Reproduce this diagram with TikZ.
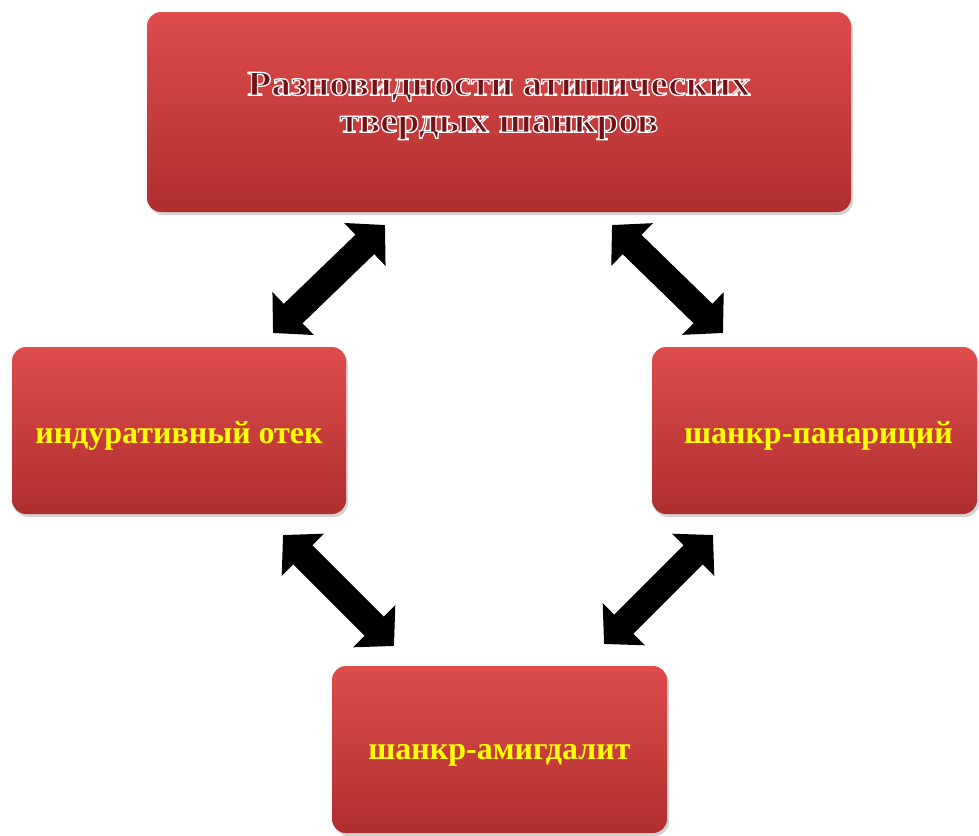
\documentclass[tikz,border=0pt]{standalone}
\usepackage{fontspec}
\setmainfont{Liberation Serif}
\newfontfamily\titlefont[FakeStretch=1.12]{Liberation Serif}
\usetikzlibrary{shadows,arrows.meta}
\definecolor{boxtop}{RGB}{222,76,76}
\definecolor{boxbot}{RGB}{176,46,46}
\definecolor{titlefill}{RGB}{112,18,24}
\definecolor{txtyellow}{RGB}{255,255,0}
\newcommand\outlinetext[1]{\special{pdf:literal direct 2 Tr 1.3 w 1 1 1 RG}#1\special{pdf:literal direct 0 Tr}}
\newcommand\lowerby[2]{\raisebox{-#1}[\height][\depth]{#2}}
\begin{document}
\begin{tikzpicture}[x=1pt,y=-1pt,
  box/.style={rounded corners=14pt, top color=boxtop, bottom color=boxbot, draw=none,
    inner sep=0pt, drop shadow={opacity=0.35,shadow xshift=2pt,shadow yshift=-3pt},
    font=\bfseries\fontsize{32}{36}\selectfont, text=txtyellow},
  dbl/.style={line width=27pt, {Triangle[length=28pt,width=58pt]}-{Triangle[length=28pt,width=58pt]}}]
\useasboundingbox (0,0) rectangle (979,835);
\node[box, minimum width=704pt, minimum height=200pt] (top) at (499,112) {};
\node[text=titlefill, align=center, inner sep=0pt,
  font=\titlefont\bfseries\fontsize{35}{37}\selectfont] (title) at (499,106)
  {\outlinetext{Разновидности атипических\\твердых шанкров}};
\node[box, minimum width=334pt, minimum height=167pt] (left) at (179,430.5) {\lowerby{5pt}{индуративный отек}};
\node[box, minimum width=325pt, minimum height=167pt] (right) at (814.5,430.5) {\hspace*{8pt}\lowerby{5pt}{шанкр-панариций}};
\node[box, minimum width=335pt, minimum height=167pt] (bottom) at (499.5,749.5) {\lowerby{6pt}{шанкр-амигдалит}};
\coordinate (a1s) at (385,225); \coordinate (a1e) at (273,333);
\coordinate (a2s) at (612,225); \coordinate (a2e) at (723,333);
\coordinate (a3s) at (283,535); \coordinate (a3e) at (394,646);
\coordinate (a4s) at (713,535); \coordinate (a4e) at (604,644);
\draw[dbl] (a1s) -- (a1e);
\draw[dbl] (a2s) -- (a2e);
\draw[dbl] (a3s) -- (a3e);
\draw[dbl] (a4s) -- (a4e);
\end{tikzpicture}
\end{document}
